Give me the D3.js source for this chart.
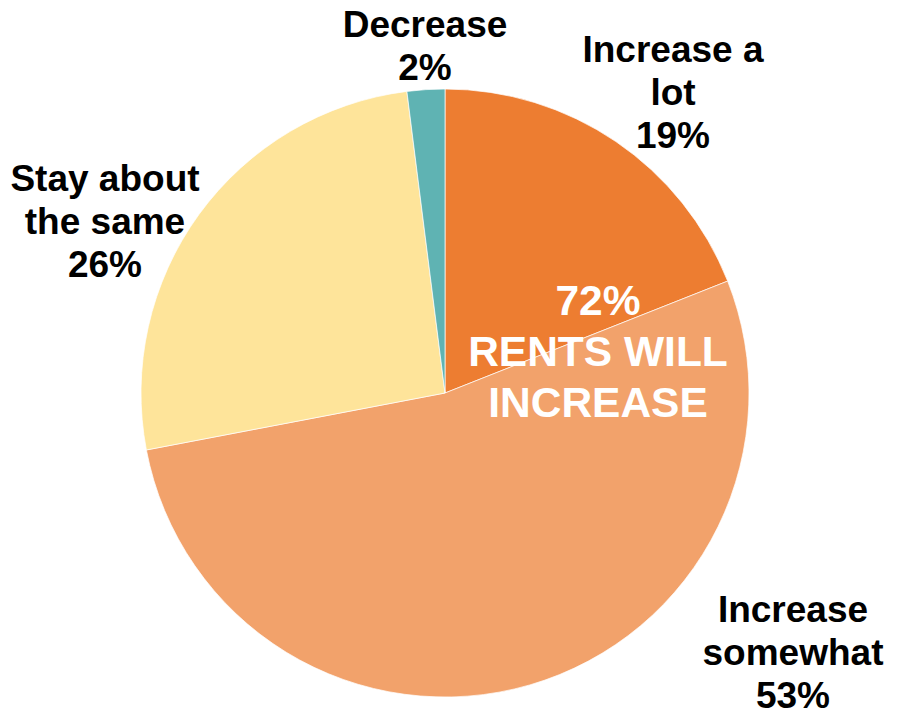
<!DOCTYPE html>
<html>
<head>
<meta charset="utf-8">
<script src="https://cdn.jsdelivr.net/npm/d3@7"></script>
<style>
  html, body { margin: 0; padding: 0; background: #fff; }
  svg { display: block; }
  text { font-family: "Liberation Sans", Arial, sans-serif; font-weight: bold; }
</style>
</head>
<body>
<svg id="chart" width="897" height="721"></svg>
<script>
// Data
const categories = ["Increase a lot", "Increase somewhat", "Stay about the same", "Decrease"];
const values = [19, 53, 26, 2];
const labelLines = [["Increase a", "lot"], ["Increase", "somewhat"], ["Stay about", "the same"], ["Decrease"]];
const colors = ["#ED7D31", "#F2A26B", "#FEE49A", "#5FB3B3"];
const centerLines = ["72%", "RENTS WILL", "INCREASE"];

// Layout (label anchor positions, first-line baseline)
const labelAnchors = [[673, 62], [793, 622], [105, 191], [425, 37]];

const svg = d3.select("#chart");
const cx = 445, cy = 393, R = 304;

const pie = d3.pie().sort(null).value(d => d).startAngle(0).endAngle(2 * Math.PI);
const arc = d3.arc().innerRadius(0).outerRadius(R);
const arcs = pie(values);

const g = svg.append("g").attr("transform", `translate(${cx},${cy})`);
g.selectAll("path").data(arcs).join("path")
  .attr("d", arc)
  .attr("fill", (d, i) => colors[i])
  .attr("stroke", "#fff")
  .attr("stroke-width", 0.7);

// Outer labels
const lh = 43;
arcs.forEach((d, i) => {
  const [x, y] = labelAnchors[i];
  const lines = labelLines[i].concat([d3.format(".0f")(values[i]) + "%"]);
  const t = svg.append("text")
    .attr("text-anchor", "middle")
    .attr("font-size", 37)
    .attr("fill", "#000");
  lines.forEach((ln, k) => {
    t.append("tspan").attr("x", x).attr("y", y + k * lh).text(ln);
  });
});

// Center annotation
const ct = svg.append("text")
  .attr("text-anchor", "middle")
  .attr("font-size", 42.5)
  .attr("fill", "#fff");
centerLines.forEach((ln, k) => {
  ct.append("tspan").attr("x", 598).attr("y", 315 + k * 51).text(ln);
});
</script>
</body>
</html>
